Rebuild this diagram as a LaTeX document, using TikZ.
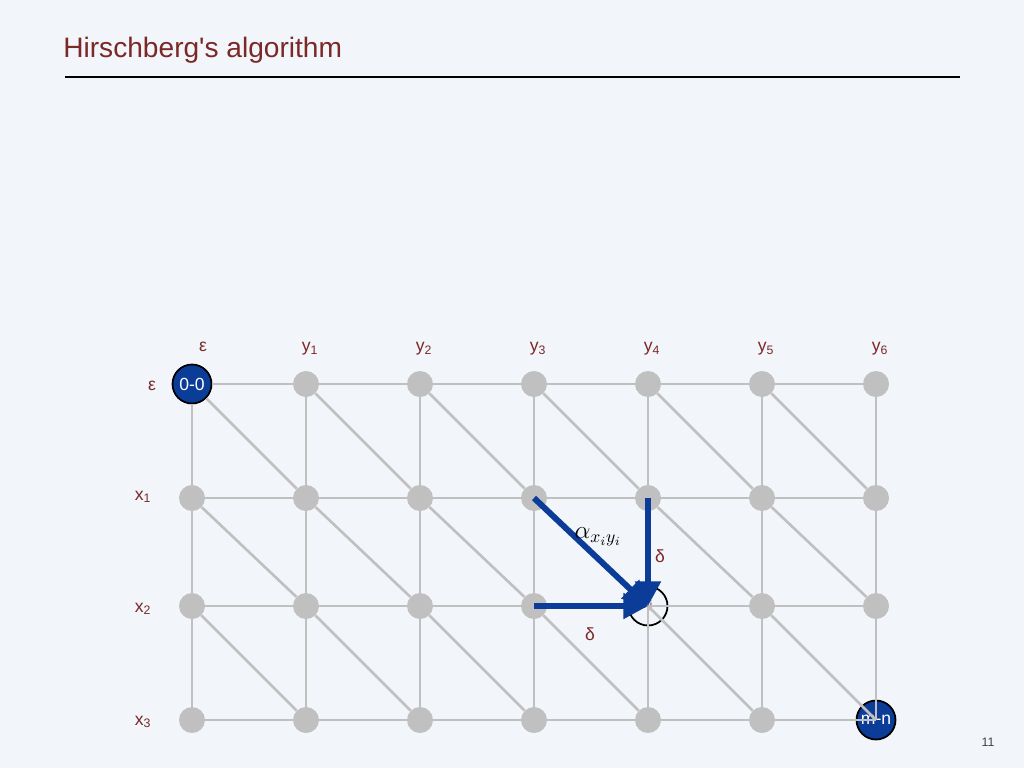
\documentclass[tikz,border=0pt]{standalone}
\usepackage{fontspec}
\setmainfont{Liberation Sans}
\usetikzlibrary{arrows.meta}
\definecolor{bgcol}{HTML}{F2F5F9}
\definecolor{titlered}{HTML}{7A2828}
\definecolor{gridgrey}{HTML}{C0C0C0}
\definecolor{pathblue}{HTML}{0B3C97}
\tikzset{
dot/.style={circle,fill=gridgrey,minimum size=0.52cm,inner sep=0pt},
endpt/.style={circle,draw=black,line width=1pt,fill=pathblue,minimum size=0.78cm,inner sep=0pt,text=white,font=\fontsize{10}{10}\selectfont},
ijcirc/.style={circle,draw=black,line width=1pt,fill=bgcol,minimum size=0.78cm,inner sep=0pt,text=titlered,font=\fontsize{6}{6}\selectfont},
gridedge/.style={draw=gridgrey,line width=1.5pt},
bluearrow/.style={draw=pathblue,line width=3.4pt,-{Triangle[length=14pt,width=14pt]}},
lbl/.style={text=titlered,font=\fontsize{10}{10}\selectfont}
}
\begin{document}
\begin{tikzpicture}[x=0.02cm,y=-0.02cm]
\fill[bgcol] (0,0) rectangle (1024,768);
\node[anchor=base west,inner sep=0pt,text=titlered,font=\fontsize{16}{16}\selectfont] (title) at (63,57) {Hirschberg\textquotesingle s algorithm};
\draw[line width=1.1pt] (65,77) -- (960,77);
% grid
\foreach \r/\yy in {0/384,1/498,2/606,3/720}{
  \foreach \c in {0,...,6}{
    \node[dot] (n-\r-\c) at ({192+114*\c},\yy) {};
  }
}
\node[endpt] (n-0-0) at (192,384) {0-0};
\node[ijcirc] (ij) at (648,606) {i-j};
\coordinate (n-2-4) at (ij.center);
\node[endpt] (mn) at (876,720) {m-n};
\coordinate (n-3-6) at (mn.center);
\foreach \r in {0,...,3}{
  \foreach \c [count=\cc] in {0,...,5}{
    \draw[gridedge] (n-\r-\c) -- (n-\r-\cc);
  }
}
\foreach \r [count=\rr] in {0,...,2}{
  \foreach \c in {0,...,6}{
    \draw[gridedge] (n-\r-\c) -- (n-\rr-\c);
  }
  \foreach \c [count=\cc] in {0,...,5}{
    \draw[gridedge] (n-\r-\c) -- (n-\rr-\cc);
  }
}
% labels
\node[lbl] (eps-col) at (203,347) {ε};
\node[lbl] (eps-row) at (152,386) {ε};
\foreach \c in {1,...,6}{
  \node[lbl] (ylab-\c) at ({196+114*\c},349) {y\textsubscript{\c}};
}
\foreach \r/\yy in {1/497,2/609,3/722}{
  \node[lbl] (xlab-\r) at (143,\yy) {x\textsubscript{\r}};
}
% path into i-j
\draw[bluearrow] (n-1-3.center) -- (n-2-4);
\draw[bluearrow] (n-1-4.center) -- (n-2-4);
\draw[bluearrow] (n-2-3.center) -- (n-2-4);
\node[font=\fontsize{14}{14}\selectfont] (alpha) at (598,537) {$\alpha_{x_iy_i}$};
\node[lbl] (delta-v) at (660,556) {δ};
\node[lbl] (delta-h) at (590,634) {δ};
\node[text=black!75,font=\fontsize{7}{7}\selectfont] (pagenum) at (988,742) {11};
\end{tikzpicture}
\end{document}
